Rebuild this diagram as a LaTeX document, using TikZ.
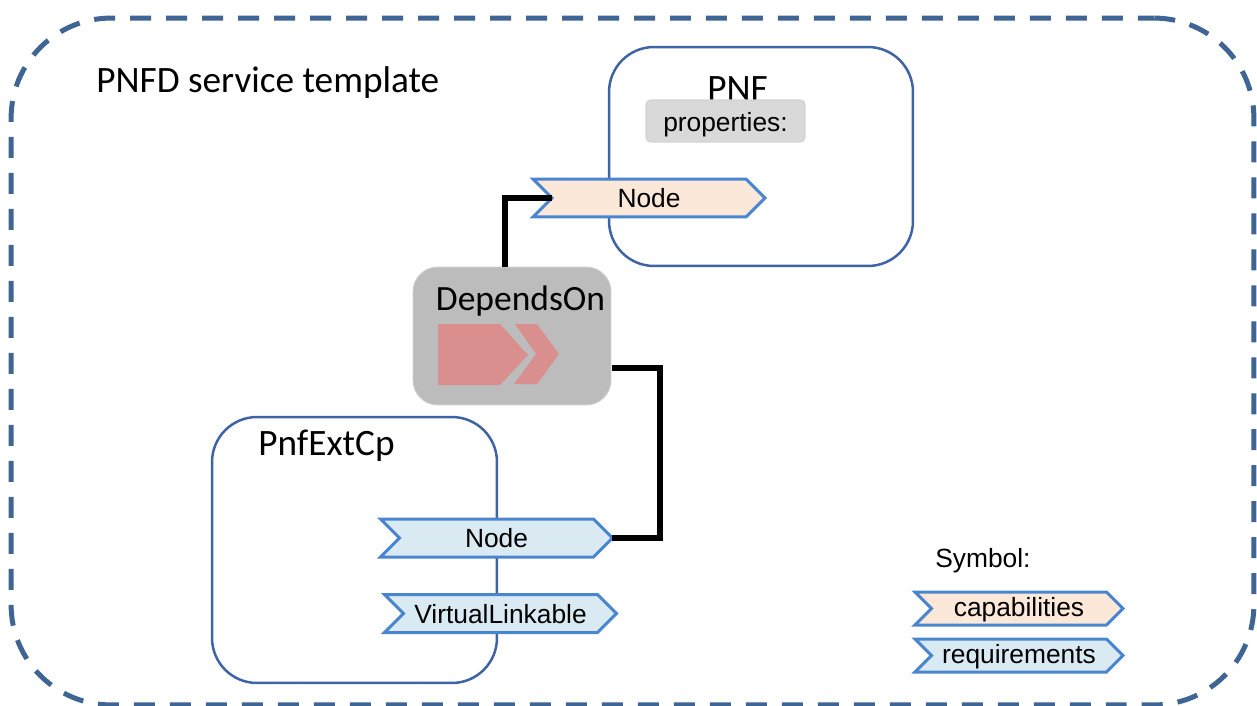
\documentclass[tikz,border=0pt]{standalone}
\usepackage{fontspec}
\setmainfont{Liberation Sans}
\newfontfamily\titlefont{Carlito}
\usepackage{tikz}
\usetikzlibrary{calc, shapes.symbols}
\definecolor{framecol}{HTML}{3E6594}
\definecolor{boxcol}{HTML}{3F64A6}
\definecolor{tagcol}{HTML}{4A86CF}
\definecolor{capcol}{HTML}{FBE8D9}
\definecolor{reqcol}{HTML}{DAEAF3}
\definecolor{relcol}{HTML}{BCBCBC}
\definecolor{iconcol}{HTML}{D98F8D}
\tikzset{pxgrid/.style={x=0.02cm, y=-0.02cm}}
\tikzset{outerbox/.style={draw=framecol, line width=0.1cm, dash pattern=on 0.42cm off 0.3cm, dash phase=0.1cm, rounded corners=2cm, minimum width=24.86cm, minimum height=13.74cm, inner sep=0pt, outer sep=0pt}}
\tikzset{typebox/.style={draw=boxcol, line width=0.05cm, rounded corners=0.9cm, fill=white, inner sep=0pt, outer sep=0pt}}
\tikzset{relbox/.style={draw=black!20, line width=0.02cm, fill=relcol, rounded corners=0.5cm, minimum width=3.96cm, minimum height=2.76cm, inner sep=0pt, outer sep=0pt}}
\tikzset{propbox/.style={draw=black!17, line width=0.03cm, fill=black!15, rounded corners=0.1cm, minimum width=3.18cm, minimum height=0.84cm, inner sep=0pt, text height=12.4pt, text depth=0pt, font=\fontsize{15}{18}\selectfont}}
\tikzset{tag/.style={signal, signal from=west, signal to=east, draw=tagcol, line width=0.06cm, inner sep=0pt, outer sep=0pt, minimum width=4.64cm, minimum height=0.76cm, text height=11.2pt, text depth=0pt, font=\fontsize{15}{18}\selectfont}}
\tikzset{smalltag/.style={tag, minimum width=4.16cm, minimum height=0.66cm, text height=9.6pt}}
\tikzset{title/.style={font=\titlefont\fontsize{21.2}{25}\selectfont, inner sep=0pt}}
\tikzset{link/.style={draw=black, line width=0.11cm, line join=miter}}
\begin{document}
\begin{tikzpicture}[pxgrid]
	\useasboundingbox (0,0) rectangle (1257,706);
	\node[outerbox] (frame) at (632.5,361.5) {};
	\node[title, anchor=west] (tpl) at (96,83) {PNFD service template};

	\node[typebox, minimum width=6.08cm, minimum height=4.38cm] (pnf) at (761,156.5) {};
	\node[title] (pnftitle) at (737.5,89) {PNF};
	\node[propbox] (props) at (725.5,121) {properties:};

	\node[typebox, minimum width=5.7cm, minimum height=5.32cm] (cp) at (354.5,550) {};
	\node[title] (cptitle) at (326.5,446) {PnfExtCp};

	\node[relbox] (dep) at (512,336) {};
	\node[title, font=\titlefont\fontsize{20.2}{25}\selectfont] (deptitle) at (520.5,301) {DependsOn};
	% icon
	\fill[iconcol] (438,324) -- (500,324) -- (528,355) -- (500,385) -- (438,385) -- cycle;
	\fill[iconcol] (515,324) -- (537,324) -- (559,354) -- (537,384) -- (514,384) -- (536,354) -- cycle;

	\node[tag, fill=capcol] (pnfnode) at (649,198) {Node};
	\node[tag, fill=reqcol] (cpnode) at (496.5,538) {Node};
	\node[tag, fill=reqcol] (cpvl) at (500.5,613.5) {VirtualLinkable};

	\coordinate (depup) at (505,267);
	\coordinate (depright) at (612,368);
	\coordinate (bend) at (660,368);
	\draw[link] (depup) |- (pnfnode.west);
	\draw[link] (depright) -- (bend) |- (cpnode.east);

	\node[anchor=west, inner sep=0pt, font=\fontsize{15}{18}\selectfont] (symb) at (935,561) {Symbol:};
	\node[smalltag, fill=capcol] (capsym) at (1019,608.5) {capabilities};
	\node[smalltag, fill=reqcol] (reqsym) at (1019,655.5) {requirements};
\end{tikzpicture}
\end{document}
